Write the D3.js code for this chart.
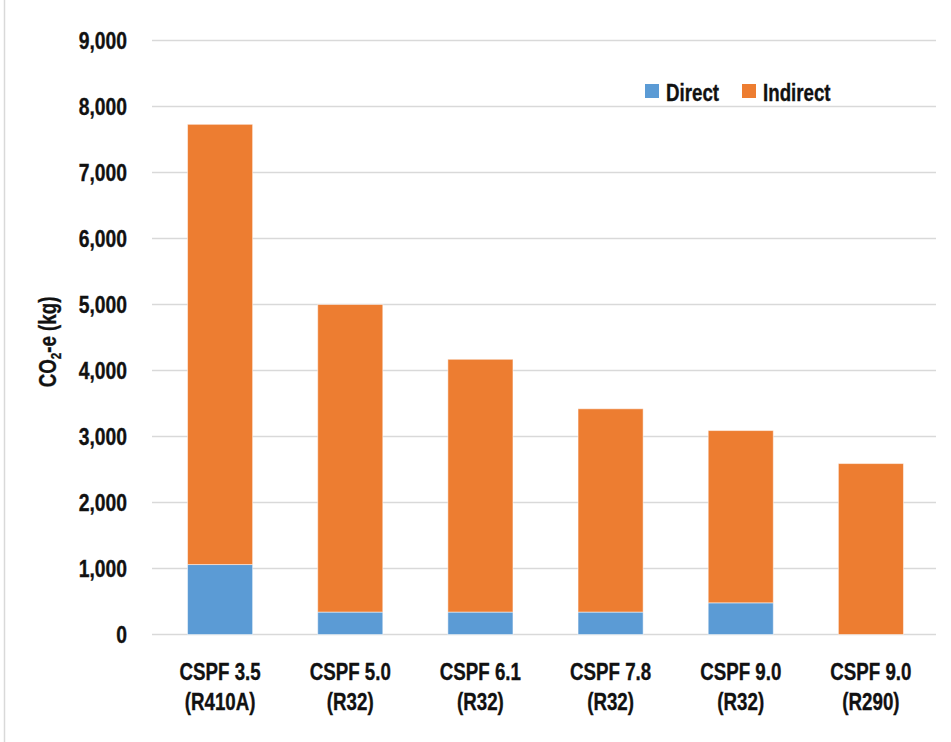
<!DOCTYPE html>
<html>
<head>
<meta charset="utf-8">
<script src="https://cdn.jsdelivr.net/npm/d3@7"></script>
<style>
  html, body { margin: 0; padding: 0; background: #fff; }
  svg { display: block; }
  text { font-family: "Liberation Sans", Arial, sans-serif; font-weight: bold; fill: #111; stroke: #111; stroke-width: 0.35; }
</style>
</head>
<body>
<svg id="chart" width="951" height="742"></svg>
<script>
const categoryLine1 = ["CSPF 3.5", "CSPF 5.0", "CSPF 6.1", "CSPF 7.8", "CSPF 9.0", "CSPF 9.0"];
const categoryLine2 = ["(R410A)", "(R32)", "(R32)", "(R32)", "(R32)", "(R290)"];
const directValues = [1060, 340, 340, 340, 480, 0];
const indirectValues = [6670, 4660, 3830, 3080, 2610, 2590];
const yTicks = [0, 1000, 2000, 3000, 4000, 5000, 6000, 7000, 8000, 9000];
const seriesNames = ["Direct", "Indirect"];
const seriesColors = ["#5B9BD5", "#ED7D31"];

(function () {
const svg = d3.select("#chart");
const mLeft = 155, mRight = 936, mTop = 40.5, mBottom = 634.5;
const narrow = 0.78;

const x = d3.scaleBand().domain(d3.range(categoryLine1.length)).range([mLeft, mRight]).paddingInner(0.5).paddingOuter(0.25);
const y = d3.scaleLinear().domain([0, 9000]).range([mBottom, mTop]);

// chart frame (left edge)
svg.append("line").attr("x1", 4.5).attr("x2", 4.5).attr("y1", 0).attr("y2", 742)
  .attr("stroke", "#d9d9d9").attr("stroke-width", 1.5);

// gridlines
svg.append("g").selectAll("line").data(yTicks).join("line")
  .attr("x1", mLeft - 3).attr("x2", mRight)
  .attr("y1", d => y(d)).attr("y2", d => y(d))
  .attr("stroke", "#d9d9d9").attr("stroke-width", 1.6);

// y axis labels
const fmt = d3.format(",");
svg.append("g").selectAll("text").data(yTicks).join("text")
  .attr("transform", d => `translate(127,${y(d)}) scale(0.84,1)`)
  .attr("dy", "0.36em")
  .attr("text-anchor", "end").attr("font-size", 23)
  .text(d => fmt(d));

// stacked bars
const rows = categoryLine1.map((c, i) => ({ i, Direct: directValues[i], Indirect: indirectValues[i] }));
const stack = d3.stack().keys(seriesNames)(rows);
svg.append("g").selectAll("g").data(stack).join("g")
  .attr("fill", (d, k) => seriesColors[k])
  .selectAll("rect").data(d => d).join("rect")
  .attr("x", d => x(d.data.i))
  .attr("width", x.bandwidth())
  .attr("y", d => y(d[1]))
  .attr("height", d => Math.max(0, y(d[0]) - y(d[1])))
  .attr("stroke", "#ffffff").attr("stroke-opacity", 0.5).attr("stroke-width", 1);

// x labels
const xl = svg.append("g");
categoryLine1.forEach((c, i) => {
  const cx = x(i) + x.bandwidth() / 2;
  xl.append("text").attr("transform", `translate(${cx},680) scale(${narrow},1)`)
    .attr("text-anchor", "middle").attr("font-size", 24).text(c);
  xl.append("text").attr("transform", `translate(${cx},710) scale(${narrow},1)`)
    .attr("text-anchor", "middle").attr("font-size", 24).text(categoryLine2[i]);
});

// y title
const yt = svg.append("text").attr("transform", `translate(56,342) rotate(-90) scale(${narrow},1)`)
  .attr("text-anchor", "middle").attr("font-size", 24);
yt.append("tspan").text("CO");
yt.append("tspan").attr("font-size", 15).attr("dy", 5).text("2");
yt.append("tspan").attr("dy", -5).text("-e (kg)");

// legend
const legendX = [645, 742];
const lg = svg.append("g");
seriesNames.forEach((n, k) => {
  lg.append("rect").attr("x", legendX[k]).attr("y", 84).attr("width", 14).attr("height", 14).attr("fill", seriesColors[k]);
  lg.append("text").attr("transform", `translate(${legendX[k] + 21},101) scale(${narrow},1)`)
    .attr("font-size", 24).text(n);
});
})();
</script>
</body>
</html>
